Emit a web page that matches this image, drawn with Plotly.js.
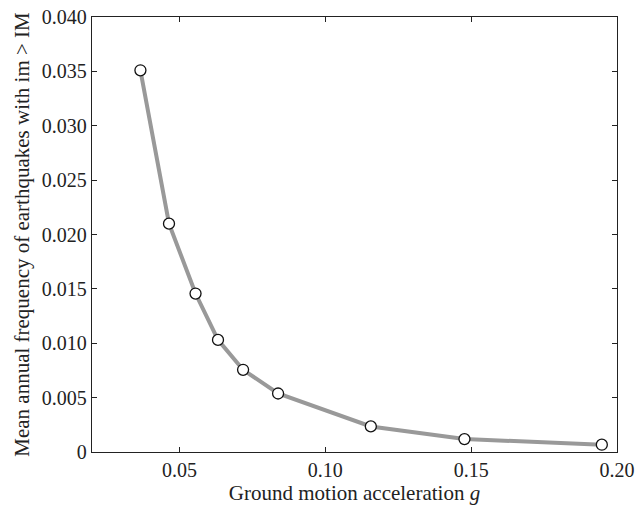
<!DOCTYPE html>
<html>
<head>
<meta charset="utf-8">
<script src="https://cdn.plot.ly/plotly-3.0.1.min.js"></script>
<style>
html,body{margin:0;padding:0;background:#fff;}
#chart{width:635px;height:515px;}
#chart .xtick text, #chart .ytick text { font-size: 20px !important; font-family: 'Liberation Serif', serif !important; }
</style>
</head>
<body>
<div id="chart"></div>
<script>
const accel = [0.0366, 0.0464, 0.0555, 0.0632, 0.0718, 0.0838, 0.1156, 0.1477, 0.1948];
const freq = [0.0351, 0.0210, 0.01457, 0.01031, 0.00756, 0.00538, 0.00235, 0.00119, 0.00067];
const xTicks = [0.05, 0.10, 0.15, 0.20];
const xTickText = ['0.05', '0.10', '0.15', '0.20'];
const yTicks = [0, 0.005, 0.010, 0.015, 0.020, 0.025, 0.030, 0.035, 0.040];
const yTickText = ['0', '0.005', '0.010', '0.015', '0.020', '0.025', '0.030', '0.035', '0.040'];

function f(size) { return {family: 'Liberation Serif', size: size, color: '#222'}; }

Plotly.newPlot('chart', [{
  x: accel, y: freq, type: 'scatter', mode: 'lines+markers',
  line: {color: '#999999', width: 4},
  marker: {symbol: 'circle', size: 11, color: '#ffffff', line: {color: '#111', width: 1.3}},
  showlegend: false
}], {
  width: 635, height: 515,
  margin: {l: 92, r: 18, t: 17, b: 63},
  paper_bgcolor: '#fff', plot_bgcolor: '#fff',
  font: f(20),
  xaxis: {
    range: [0.02, 0.2], tickmode: 'array', tickvals: xTicks, ticktext: xTickText,
    ticks: 'inside', ticklen: 5, tickcolor: '#222', mirror: 'ticks',
    showline: true, linecolor: '#222', linewidth: 1.2, showgrid: false, zeroline: false,
    tickfont: f(20),
    title: {text: 'Ground motion acceleration <i>g</i>', font: f(21), standoff: 4}
  },
  yaxis: {
    range: [0, 0.04], tickmode: 'array', tickvals: yTicks, ticktext: yTickText,
    ticks: 'inside', ticklen: 5, tickcolor: '#222', mirror: 'ticks',
    showline: true, linecolor: '#222', linewidth: 1.2, showgrid: false, zeroline: false,
    tickfont: f(20),
    title: {text: 'Mean annual frequency of earthquakes with im > IM', font: f(21), standoff: 6}
  }
}, {displayModeBar: false, staticPlot: true});
</script>
</body>
</html>
